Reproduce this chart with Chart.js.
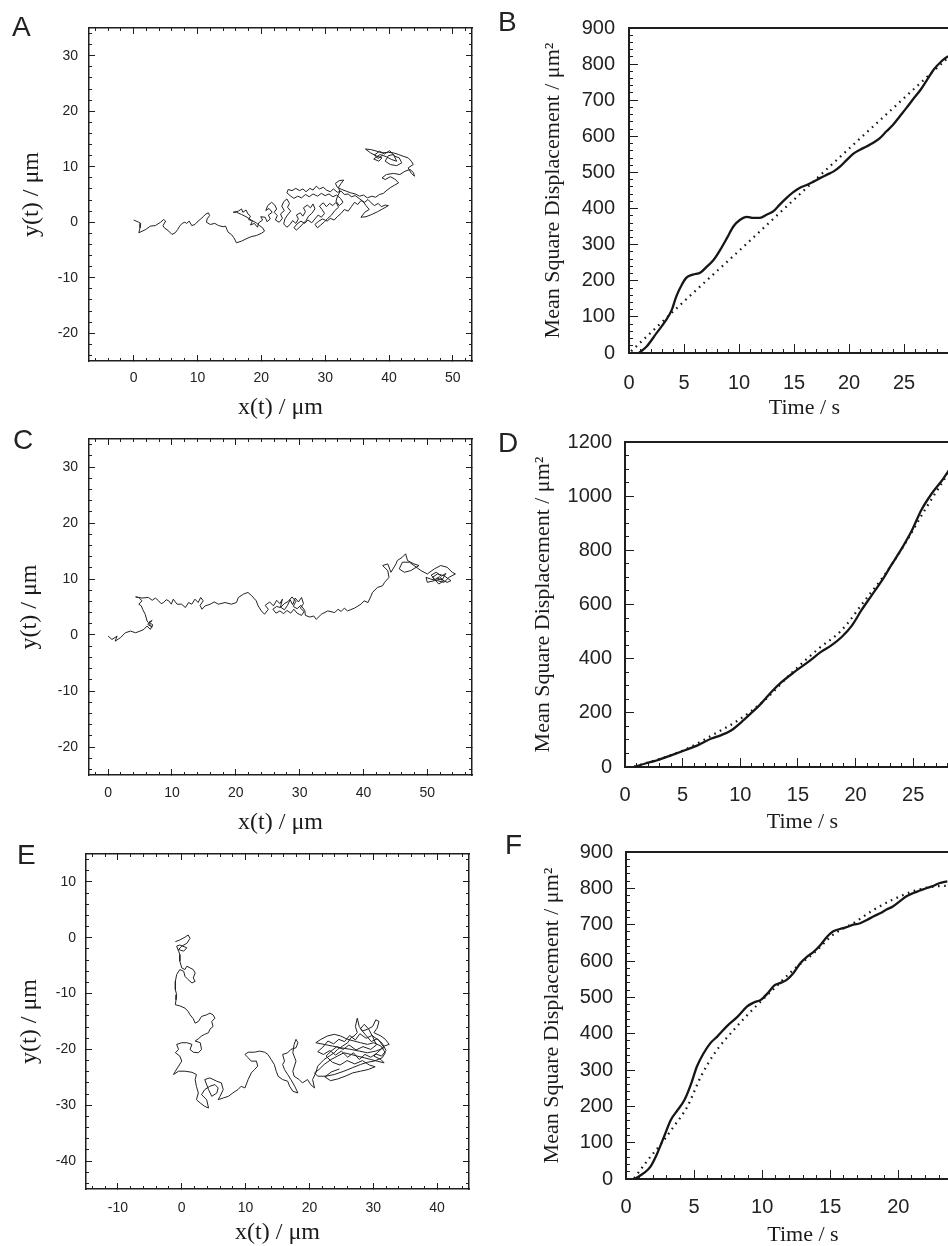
<!DOCTYPE html>
<html><head><meta charset="utf-8">
<script src="https://cdn.jsdelivr.net/npm/chart.js@4.4.1/dist/chart.umd.min.js"></script>
<style>
html,body{margin:0;padding:0;width:948px;height:1246px;overflow:hidden;background:#fff;}
canvas{position:absolute;}
.lbl{position:absolute;font-family:"Liberation Sans",Arial,sans-serif;font-size:28px;line-height:28px;color:#222;}
</style></head><body>
<canvas id="cA" width="480" height="425" style="left:0px;top:0px"></canvas>
<canvas id="cB" width="520" height="425" style="left:480px;top:0px"></canvas>
<canvas id="cC" width="480" height="427" style="left:0px;top:410px"></canvas>
<canvas id="cD" width="520" height="427" style="left:480px;top:410px"></canvas>
<canvas id="cE" width="480" height="430" style="left:0px;top:820px"></canvas>
<canvas id="cF" width="520" height="430" style="left:480px;top:820px"></canvas>
<div class="lbl" style="left:12px;top:13px">A</div>
<div class="lbl" style="left:498px;top:8px">B</div>
<div class="lbl" style="left:13px;top:426px">C</div>
<div class="lbl" style="left:498px;top:429px">D</div>
<div class="lbl" style="left:17px;top:841px">E</div>
<div class="lbl" style="left:505px;top:831px">F</div>
<script>
// ---------------- DATA ----------------
const pathA = [[0,0.4],[0.8,0],[1.1,-0.2],[1.0,-1.0],[0.8,-1.9],[1.9,-1.3],[2.6,-0.7],[3.4,-0.6],[4.2,0],[4.7,0.5],[5.0,0.2],[4.6,-0.6],[4.8,-1.0],[5.5,-1.6],[6.0,-2.2],[6.5,-1.9],[6.9,-1.3],[7.2,-0.7],[7.6,-0.2],[8.0,0],[8.3,-0.2],[8.7,0.2],[9.1,-0.6],[9.6,-0.4],[9.9,0],[10.4,0.5],[10.9,1.0],[11.2,1.4],[11.7,1.7],[11.9,1.2],[11.5,0.6],[11.4,0],[12.0,-0.4],[12.7,-0.2],[13.3,-0.6],[14.0,-0.8],[14.4,-0.7],[14.6,-1.3],[14.8,-1.8],[15.3,-2.2],[15.7,-2.8],[16.1,-3.7],[16.9,-3.4],[17.6,-3.0],[18.4,-2.6],[19.2,-2.4],[20.0,-2.0],[20.5,-1.6],[20.2,-1.0],[19.7,-0.6],[19.2,-0.1],[18.4,0.4],[17.6,1.0],[16.9,1.4],[16.1,1.8],[15.6,1.8],[16.4,2.0],
[16.9,2.4],[17.1,1.8],[17.6,2.2],[17.9,1.5],[18.3,1.1],[18.0,0.5],[18.6,0.2],[18.3,-0.5],[18.9,-0.2],[19.4,-0.9],[19.6,-0.1],[20.2,0.4],[19.9,1.0],[20.6,0.9],[20.9,0.1],[21.4,0.6],[21.1,1.3],[21.7,1.8],[21.2,2.5],[20.7,2.1],[21.0,3.0],[21.6,3.6],[22.1,3.1],[22.4,2.4],[22.0,1.8],[22.5,1.2],[22.2,0.4],[22.8,0.0],[23.3,0.7],[23.0,1.5],[23.6,2.1],[23.2,2.9],[23.5,3.7],[24.0,4.2],[24.4,3.4],[24.1,2.7],[24.6,2.0],[24.1,1.3],[23.7,0.6],[23.5,-0.3],[24.0,-0.9],[24.5,-0.4],[24.9,0.3],[25.4,-0.2],[25.8,0.6],[25.5,1.3],[26.1,1.7],[26.5,1.1],[26.9,1.9],[26.6,2.6],[27.2,3.1],[27.7,2.6],[28.1,3.3],[28.4,2.4],[27.9,1.6],[27.4,1.1],[27.0,0.3],[26.5,-0.3],[26.0,-0.9],[25.5,-1.4],[25.1,-1.0],[25.6,-0.3],[26.2,0.2],[26.8,-0.2],[27.3,0.4],[27.9,-0.1],[28.4,0.6],[28.9,1.3],[29.4,0.9],[29.9,1.6],[29.5,2.3],[29.1,2.9],[29.7,3.5],[30.2,2.8],[30.7,3.4],[31.2,3.0],[31.7,3.6],[32.1,2.7],[31.5,2.1],[31.0,1.3],[30.4,0.7],[29.9,0.1],[29.3,-0.5],[28.8,-1.0],[28.4,-0.4],[29.0,0.2],[29.6,0.6],[30.3,0.2],[30.8,0.7],[31.4,0.4],[31.9,1.0],[32.5,1.6],[33.0,2.3],[33.6,2.0],[34.1,2.8],[34.6,3.6],[35.1,3.2],[35.6,3.9],[36.2,3.6],[36.7,4.1],[37.2,3.5],[37.7,3.0],[38.3,3.4],[38.8,2.8],[39.4,3.1],[39.9,3.0],[39.0,2.4],[38.2,1.9],[37.3,1.4],[36.4,1.0],[35.6,0.9],[36.2,1.8],[36.9,2.3],[36.4,3.0],[35.9,3.8],[35.3,4.3],[34.7,4.8],[34.1,4.6],[33.6,5.1],[33.0,5.0],[32.5,5.6],[31.9,5.4],[31.3,6.0],[30.8,5.5],[30.2,5.8],[29.7,6.3],[29.1,6.0],[28.6,6.5],[28.1,5.8],[27.6,6.1],[27.0,5.5],[26.5,6.0],[26.0,5.7],[25.4,6.1],[24.8,5.7],[24.2,5.9],[24.0,5.3],[24.5,4.8],[25.1,4.3],[25.7,4.7],[26.3,4.4],[26.9,5.0],[27.5,4.6],[28.1,5.1],[28.8,4.7],[29.4,5.2],[30.0,4.8],[30.6,5.1],[31.2,4.6],[31.8,4.9],[32.4,4.3],[32.8,3.6],[32.2,3.0],[31.7,3.8],[31.9,4.6],[32.3,5.5],[32.1,6.3],[32.5,7.0],[32.9,7.6],[32.2,7.5],[31.6,7.0],[31.9,6.3],[32.6,5.9],[33.3,5.6],[34.0,5.3],[34.7,5.1],[35.4,4.7],[36.0,4.9],[36.6,4.4],[37.3,4.7],[37.9,4.5],[38.5,5.0],[39.1,5.2],[39.7,5.8],[40.3,6.3],[40.9,6.7],[41.5,7.1],
[40.9,7.8],[40.2,8.2],[39.4,7.7],[38.9,8.0],[39.6,8.6],[40.7,8.8],[41.7,8.6],[42.5,9.2],[43.3,9.5],[43.8,9.0],[44.0,8.3],[43.5,8.8],[43.0,9.8],[43.8,10.4],[43.5,11.0],[43.0,11.6],[42.2,11.9],[41.5,12.2],[40.7,12.5],[39.9,12.6],[38.9,12.5],[37.8,12.9],[37.1,13.1],[36.3,13.2],[37.1,12.5],[38.1,11.9],[38.9,11.6],[38.4,11.0],[37.6,11.4],[38.6,12.2],[39.6,11.8],[40.4,11.3],[41.2,11.0],[40.7,12.2],[39.9,12.0],[39.4,11.0],[40.2,10.4],[41.2,10.2],[42.0,10.7],[41.6,11.6],[40.9,11.9],[40.1,12.9],[39.3,12.3],[38.5,12.8],[37.7,12.1],[38.3,11.5],[39.0,12.1]];

const pathC = [[0,-0.2],[0.6,-0.8],[1.4,-0.2],[1.1,-1.1],[1.9,-0.5],[2.7,0.4],[3.5,0.7],[4.3,0.4],[5.0,0.7],[5.6,1.0],[6.1,1.6],[6.6,1.0],[7.0,1.8],[6.4,2.3],[6.9,2.6],[6.2,1.9],[6.9,1.4],[6.3,2.2],[6.1,2.5],[5.8,3.7],[5.4,4.6],[5.2,5.2],[4.8,5.5],[5.3,6.1],[4.8,6.7],[4.3,6.8],[5.3,6.6],[6.3,6.7],[6.9,6.2],[7.4,6.6],[7.9,6.1],[8.3,5.6],[8.7,5.8],[9.1,6.3],[9.5,6.1],[9.9,5.5],[10.2,6.4],[10.8,5.5],[11.5,5.5],[12.1,4.9],[12.6,5.8],[13.1,5.5],[13.6,6.4],[14.1,5.8],[14.5,6.7],[14.9,6.1],[14.4,5.3],[14.7,4.6],[15.2,5.2],[16.0,5.5],[16.6,5.9],[17.3,5.5],[18.3,5.8],[19.3,5.5],[20.1,5.8],[20.4,6.7],[21.2,7.3],[21.9,7.6],[22.5,7.0],[23.2,6.1],[23.5,5.2],
[24.0,4.3],[24.5,3.7],[25.1,4.6],[24.6,5.3],[25.3,5.9],[25.9,5.2],[26.4,6.2],[26.9,5.6],[27.3,6.4],[27.0,5.0],[27.6,4.5],[28.1,5.3],[28.5,6.3],[28.9,5.4],[29.3,6.6],[29.8,5.9],[30.3,6.7],[30.6,5.6],[30.1,4.8],[30.7,4.2],[30.3,3.5],[29.6,3.9],[29.1,4.6],[28.6,3.9],[28.0,4.4],[27.5,3.8],[26.9,4.3],[26.3,3.9],[25.8,4.6],[26.4,5.1],[27.0,4.9],[27.6,5.6],[28.2,6.0],[28.8,6.8],[29.4,6.0],[29.0,5.1],[29.6,4.7],[30.2,5.3],[30.8,4.4],[30.9,3.5],[31.6,3.2],[32.2,3.4],[32.6,2.8],[33.4,3.7],[34.4,4.3],[35.5,4.0],[36.0,4.6],[36.5,4.2],[37.0,4.8],[37.5,4.3],[38.6,4.8],[39.6,5.5],[40.1,6.1],[40.7,5.8],[41.2,7.0],[41.4,7.6],[42.2,8.5],[43.0,8.8],[43.3,9.4],[44.0,10.3],[43.8,11.5],[43.0,12.4],[43.8,12.7],[44.3,11.2],[45.1,12.7],[45.3,13.3],[46.1,13.9],[46.6,14.5],[46.9,13.3],[47.9,12.7],[48.7,12.4],[47.4,11.5],[46.4,11.2],[45.6,11.8],[46.1,13.0],[47.2,13.0],[49.0,11.5],[50.0,10.9],[51.1,11.8],[52.1,12.4],[53.1,12.1],[53.9,11.2],[54.4,10.9],[53.4,10.3],[52.6,9.4],[51.6,9.7],[50.5,10.0],[49.8,10.3],[50.0,9.4],[51.1,9.7],[52.1,10.0],[53.1,9.4],[53.7,9.7],[52.6,10.6],[51.6,10.9],[50.8,10.3],[51.8,9.1],[52.6,9.7],[51.9,10.4],[51.2,9.9],[50.6,10.7],[51.4,11.2],[52.2,10.5],[52.9,11.0],[52.3,9.8],[51.5,10.2]];

const pathE = [[-1.0,-0.7],[-0.3,-0.4],[0.5,0.1],[1.0,0.5],[1.3,-0.1],[0.8,-1.0],[0,-1.5],[-0.5,-2.1],[0.3,-2.4],[0.8,-1.8],[-0.3,-1.3],[-0.8,-1.5],[-0.5,-2.4],[-0.3,-3.0],[-0.3,-4.2],[0,-5.4],[0.5,-5.7],[0.8,-5.1],[1.3,-5.4],[1.8,-5.7],[2.1,-6.3],[1.8,-7.2],[2.1,-7.8],[1.6,-8.1],[1.0,-7.5],[0.5,-6.9],[0.3,-6.0],[-0.3,-5.7],[-0.8,-6.6],[-1.0,-7.8],[-1.0,-9.3],[-0.8,-10.2],[-0.9,-11.1],[-1.0,-12.0],[-0.3,-12.2],[0.5,-12.6],[1.0,-13.2],[1.3,-13.8],[1.8,-14.5],[2.1,-15.3],[2.6,-15.0],[3.1,-14.1],[3.9,-13.8],[4.4,-13.5],[4.9,-13.8],[5.2,-14.4],[4.7,-15.0],[4.9,-15.9],[4.4,-16.4],[4.2,-17.0],[3.6,-17.3],[3.1,-17.6],[2.6,-18.1],[2.1,-18.5],[2.9,-18.8],[3.1,-20.0],[2.6,-20.6],[1.8,-20.5],[1.3,-20.0],[1.6,-19.1],[0.8,-18.8],[0,-18.8],[-0.8,-19.1],[-0.5,-20.0],[-1.0,-20.6],[-0.3,-21.2],[0,-22.1],[-0.5,-23.0],[-1.0,-23.9],[-1.3,-24.5],[-0.5,-23.9],[0.5,-23.9],[1.6,-24.1],[2.3,-24.5],[2.1,-25.4],[2.3,-26.6],[2.6,-27.8],[2.3,-29.0],[2.9,-29.6],[3.6,-30.2],[4.2,-30.5],[3.9,-29.0],[3.1,-28.1],[3.6,-27.2],[4.4,-26.6],[5.2,-26.3],[5.7,-26.9],[5.5,-27.8],[4.7,-28.4],[4.2,-27.2],[3.6,-25.4],[4.4,-25.1],[5.5,-25.7],[6.2,-26.0],[6.5,-27.2],[6.0,-28.4],[5.7,-29.0],[6.5,-28.7],[7.3,-28.4],[8.0,-27.8],[8.8,-27.2],[9.3,-26.6],[9.9,-26.9],[10.4,-25.4],[10.9,-24.2],[11.4,-23.6],[11.9,-23.0],[11.7,-22.1],[10.9,-22.1],[10.4,-21.5],[9.9,-20.9],[10.4,-20.5],[11.4,-20.5],[12.2,-20.3],[13.0,-20.5],[13.5,-20.9],[14.0,-21.8],[14.5,-22.7],[14.8,-23.9],[15.1,-24.8],[15.8,-25.4],[16.6,-25.7],[16.9,-26.6],[17.4,-27.5],[18.2,-27.8],[17.7,-26.6],[17.1,-25.4],[16.6,-24.5],[16.1,-23.6],[15.8,-22.7],[16.1,-22.1],[15.8,-20.9],[16.6,-20.6],[17.1,-20.0],[17.9,-19.7],[18.2,-18.8],[17.9,-18.2],[17.6,-19.1],[17.4,-20.6],[17.9,-22.1],[17.4,-23.9],[17.6,-24.8],[18.4,-25.4],[18.9,-26.0],[19.7,-25.4],[20.2,-26.3],[20.8,-26.9],[20.5,-25.4],[21.0,-24.2],[21.3,-23.0],[21.8,-22.4],[22.3,-21.8],[23.1,-21.2],[23.9,-20.6],[24.4,-20.0],[25.2,-19.4],[26.0,-18.8],[26.5,-17.9],[27.0,-17.6],[27.5,-17.0],[27.2,-15.9],[27.5,-14.4],[27.8,-15.9],[28.3,-16.7],[29.1,-16.4],[29.9,-15.9],[30.4,-14.7],[30.9,-15.0],[30.6,-16.2],[30.1,-17.0],[31.2,-17.6],[31.9,-18.2],[32.5,-19.1],[31.7,-19.4],[31.2,-20.0],[30.6,-20.6],[30.1,-21.2],[31.2,-21.8],[31.7,-22.4],[30.6,-22.1],[29.6,-21.8],[28.6,-21.5],[27.5,-21.2],[26.5,-20.9],[25.4,-20.6],[24.4,-21.2],[23.4,-21.8],[22.3,-22.7],[21.5,-23.6],[20.8,-24.2],[21.3,-24.8],[22.6,-24.8],[23.9,-24.5],[25.4,-23.9],[26.7,-23.3],[28.0,-22.7],[29.1,-22.3],[30.1,-22.1],[31.4,-21.5],[31.9,-20.6],[31.2,-19.4],[30.1,-18.8],[29.1,-19.1],[28.0,-18.8],[27.0,-18.5],[26.0,-18.2],[24.9,-17.6],[23.9,-17.3],[22.8,-17.6],[21.8,-18.2],[21.0,-18.8],[22.3,-19.1],[23.6,-19.4],[24.9,-19.7],[26.5,-20.0],[27.8,-20.3],[29.1,-20.6],[30.4,-20.3],[31.7,-19.7],
[30.9,-18.4],[29.8,-17.5],[28.9,-18.0],[27.9,-17.2],[27.2,-18.3],[26.3,-17.5],[25.5,-18.6],[24.6,-18.2],[23.8,-19.0],[22.9,-18.5],[22.1,-19.6],[21.3,-20.4],[22.2,-20.9],[23.2,-20.2],[24.1,-21.0],[25.0,-20.3],[26.0,-21.4],[26.9,-20.6],[27.8,-21.8],[28.7,-20.9],[29.6,-21.4],[30.4,-20.8],[31.3,-21.2],[32.0,-20.2],[31.4,-18.9],[30.6,-18.1],[29.7,-18.6],[28.8,-17.4],[28.0,-16.3],[28.6,-15.5],[29.3,-16.4],[29.9,-17.7],[30.5,-19.2],[29.6,-20.0],[28.4,-19.5],[27.3,-20.1],[26.2,-19.2],[25.3,-20.0],[24.3,-19.5],[23.4,-20.3],[22.6,-21.2],[23.6,-22.3],[24.8,-22.8],[25.9,-22.0],[27.1,-22.6],[28.3,-22.0],[29.4,-22.8],[30.3,-23.1],[29.2,-23.6],[28.0,-23.9],[26.8,-24.2],[25.6,-24.8],[24.4,-25.3],[23.3,-25.6],[22.4,-24.9],[23.5,-24.0],[24.7,-23.5]];

// MSD panels: time (s) and mean square displacement (um^2)
const timeB = [0.9,1.6,2.5,3.3,3.9,4.3,4.8,5.2,5.8,6.5,7.1,7.7,8.3,8.9,9.5,10.1,10.7,11.3,11.9,12.5,13.1,13.7,14.3,14.9,15.5,16.2,16.8,17.4,18.0,18.6,19.2,19.8,20.4,21.0,21.6,22.2,22.8,23.4,24.0,24.6,25.2,25.8,26.5,27.1,27.7,28.4,29.0];
const msdB  = [0,18,55,88,120,157,189,208,217,223,240,258,286,318,351,369,377,374,374,383,392,411,429,445,457,466,475,485,494,503,517,535,552,563,572,582,595,614,632,655,678,702,729,757,785,808,822];
const fitTimeB = [0.2,5,10,15,20,25,29];
const fitB     = [5,143,283,425,566,706,818];

const timeD = [0.8,1.7,2.8,4.0,5.2,6.3,7.5,8.3,9.2,10.1,10.9,11.8,12.7,13.6,14.7,15.9,17.0,17.9,18.8,19.7,20.5,21.4,22.3,23.1,24.0,24.9,25.7,26.6,27.5,28.2];
const msdD  = [0,12,25,43,62,80,105,117,135,166,197,234,277,314,351,388,425,449,480,523,578,634,689,745,806,874,948,1009,1058,1102];
const fitTimeD = [0.8,3.1,5.4,7.8,9.8,12.1,14.4,16.8,18.8,20.8,22.6,24.3,26.0,28.1];
const fitD     = [2,31,68,123,172,246,345,437,505,615,714,825,948,1089];

const timeF = [0.7,1.3,1.8,2.3,2.8,3.3,3.8,4.3,4.8,5.2,5.7,6.2,6.7,7.4,8.2,8.9,9.4,9.9,10.4,10.9,11.3,11.8,12.3,12.8,13.3,13.8,14.3,14.8,15.2,15.7,16.2,16.7,17.2,17.7,18.2,18.7,19.1,19.6,20.1,20.6,21.1,21.6,22.1,22.6,23.0,23.6];
const msdF  = [2,16,34,71,117,163,190,218,264,309,346,374,392,420,447,475,486,493,511,533,539,548,567,594,612,626,645,668,681,688,693,700,704,713,723,732,741,750,764,778,787,794,801,807,814,819];
const fitTimeF = [0.6,1.6,2.6,3.5,4.5,5.5,6.5,7.9,9.4,10.9,12.3,13.8,15.2,16.7,18.2,19.6,21.1,22.6,23.6];
const fitF     = [2,52,98,144,199,282,346,410,470,525,576,622,672,704,741,769,792,805,807];

// tick labels
const ticksAx = [0,10,20,30,40,50],   ticksAy = [-20,-10,0,10,20,30];
const ticksCx = [0,10,20,30,40,50],   ticksCy = [-20,-10,0,10,20,30];
const ticksEx = [-10,0,10,20,30,40],  ticksEy = [-40,-30,-20,-10,0,10];
const ticksBx = [0,5,10,15,20,25,30], ticksBy = [0,100,200,300,400,500,600,700,800,900];
const ticksDx = [0,5,10,15,20,25,30], ticksDy = [0,200,400,600,800,1000,1200];
const ticksFx = [0,5,10,15,20,25],    ticksFy = [0,100,200,300,400,500,600,700,800,900];

// ---------------- DRAWING ----------------
const SANS = '"Liberation Sans", Arial, sans-serif';
const SERIF = '"Liberation Serif", "Times New Roman", serif';
const INK = '#1e1e1e';

function minorList(min, max, step) {
  const o = [];
  for (let v = Math.ceil(min / step - 1e-9) * step; v <= max + 1e-9; v += step) o.push(Math.round(v * 1000) / 1000);
  return o;
}

function ax(position, min, max, values, tl, o) {
  o = o || {};
  const horiz = position === 'top' || position === 'bottom';
  const a = {
    type: 'linear', axis: horiz ? 'x' : 'y', position, min, max, weight: o.weight || 0, display: true,
    afterBuildTicks: s => { s.ticks = values.map(v => ({value: v})); },
    afterFit: s => {
      if (horiz) s.height = o.size || 0; else s.width = o.size || 0;
      s.paddingTop = 0; s.paddingBottom = 0; s.paddingLeft = 0; s.paddingRight = 0;
    },
    grid: {display: true, drawOnChartArea: false, drawTicks: values.length > 0, tickLength: tl, color: INK, lineWidth: 1, tickWidth: o.tw || 1},
    border: {display: !!o.border, color: INK, width: o.bw || 1.5},
    ticks: {display: !!o.labels, autoSkip: false, maxRotation: 0, minRotation: 0, padding: o.pad || 0, color: '#222',
             font: o.font || {family: SANS, size: 12}, callback: v => String(v)},
    title: {display: false}
  };
  if (o.title) a.title = {display: true, text: o.title, color: '#1a1a1a', font: o.tfont, padding: o.tpad};
  return a;
}

function baseOptions(L, scales) {
  return {
    animation: false, responsive: false, devicePixelRatio: 1,
    layout: {autoPadding: false, padding: {top: L.top, right: L.right, left: 0, bottom: 0}},
    plugins: {legend: {display: false}, tooltip: {enabled: false}},
    elements: {point: {radius: 0}},
    scales
  };
}

function trajPanel(id, path, xr, yr, xt, yt, L) {
  const xMin = minorList(xr[0], xr[1], 2), yMin = minorList(yr[0], yr[1], 2);
  const tf = {family: SANS, size: 14};
  const ttl = {family: SERIF, size: 24};
  new Chart(document.getElementById(id), {
    type: 'scatter',
    data: {datasets: [{data: path.map(p => ({x: p[0], y: p[1]})), showLine: true, borderColor: '#222',
                       borderWidth: 1, pointRadius: 0, tension: 0, fill: false}]},
    options: baseOptions(L, {
      xm: ax('bottom', xr[0], xr[1], xMin, -3, {weight: 0}),
      x: ax('bottom', xr[0], xr[1], xt, -6, {weight: 1, size: L.bottom, border: true, labels: true, pad: L.xpad, font: tf,
             title: 'x(t) / μm', tfont: ttl, tpad: {top: 0, bottom: L.xtpad}}),
      ym: ax('left', yr[0], yr[1], yMin, -3, {weight: 0}),
      y: ax('left', yr[0], yr[1], yt, -6, {weight: 1, size: L.left, border: true, labels: true, pad: L.ypad, font: tf,
             title: 'y(t) / μm', tfont: ttl, tpad: {top: L.ytpad, bottom: 0}}),
      xtm: ax('top', xr[0], xr[1], xMin, -3, {weight: 0}),
      xtM: ax('top', xr[0], xr[1], xt, -6, {weight: 1, border: true}),
      yrm: ax('right', yr[0], yr[1], yMin, -3, {weight: 0}),
      yrM: ax('right', yr[0], yr[1], yt, -6, {weight: 1, border: true})
    })
  });
}

function msdPanel(id, tS, vS, tD, vD, xr, yr, xt, yt, yStep, L) {
  const xMin = minorList(xr[0], xr[1], 1), yMin = minorList(yr[0], yr[1], yStep);
  const tf = {family: SANS, size: 20};
  const ttl = {family: SERIF, size: 22};
  new Chart(document.getElementById(id), {
    type: 'scatter',
    data: {datasets: [
      {data: tS.map((t, i) => ({x: t, y: vS[i]})), showLine: true, borderColor: '#161616', borderWidth: 2.3,
       pointRadius: 0, cubicInterpolationMode: 'monotone', fill: false},
      {data: tD.map((t, i) => ({x: t, y: vD[i]})), showLine: true, borderColor: '#161616', borderWidth: 2.2,
       borderDash: [1.6, 4.6], pointRadius: 0, cubicInterpolationMode: 'monotone', fill: false}
    ]},
    options: baseOptions(L, {
      xm: ax('bottom', xr[0], xr[1], xMin, -4, {weight: 0}),
      x: ax('bottom', xr[0], xr[1], xt, -9, {weight: 1, size: L.bottom, border: true, bw: 2, labels: true, pad: L.xpad, font: tf,
             title: 'Time / s', tfont: ttl, tpad: {top: 0, bottom: L.xtpad}}),
      ym: ax('left', yr[0], yr[1], yMin, -4, {weight: 0}),
      y: ax('left', yr[0], yr[1], yt, -9, {weight: 1, size: L.left, border: true, bw: 2, labels: true, pad: L.ypad, font: tf,
             title: 'Mean Square Displacement / μm²', tfont: ttl, tpad: {top: L.ytpad, bottom: 0}}),
      xtM: ax('top', xr[0], xr[1], [], 0, {weight: 1, border: true, bw: 2})
    })
  });
}

trajPanel('cA', pathA, [-7, 53], [-25, 35], ticksAx, ticksAy,
  {top: 28, right: 8, left: 89, bottom: 64, xpad: 15, ypad: 17, xtpad: 2.6, ytpad: 17.6});
trajPanel('cC', pathC, [-3, 57], [-25, 35], ticksCx, ticksCy,
  {top: 29, right: 8, left: 89, bottom: 62, xpad: 16, ypad: 17, xtpad: 0, ytpad: 15.6});
trajPanel('cE', pathE, [-15, 45], [-45, 15], ticksEx, ticksEy,
  {top: 34, right: 11, left: 86, bottom: 61, xpad: 17, ypad: 16, xtpad: 2.6, ytpad: 15.6});

msdPanel('cB', timeB, msdB, fitTimeB, fitB, [0, 31.9], [0, 900], ticksBx, ticksBy, 20,
  {top: 28, right: 20, left: 149, bottom: 72, xpad: 27, ypad: 23, xtpad: 3.8, ytpad: 59.8});
msdPanel('cD', timeD, msdD, fitTimeD, fitD, [0, 30.8], [0, 1200], ticksDx, ticksDy, 50,
  {top: 32, right: 20, left: 145, bottom: 70, xpad: 25, ypad: 22, xtpad: 1.8, ytpad: 49.8});
msdPanel('cF', timeF, msdF, fitTimeF, fitF, [0, 26], [0, 900], ticksFx, ticksFy, 20,
  {top: 32, right: 20, left: 146, bottom: 71, xpad: 25, ypad: 22, xtpad: 1.8, ytpad: 58.8});
</script>
</body></html>
